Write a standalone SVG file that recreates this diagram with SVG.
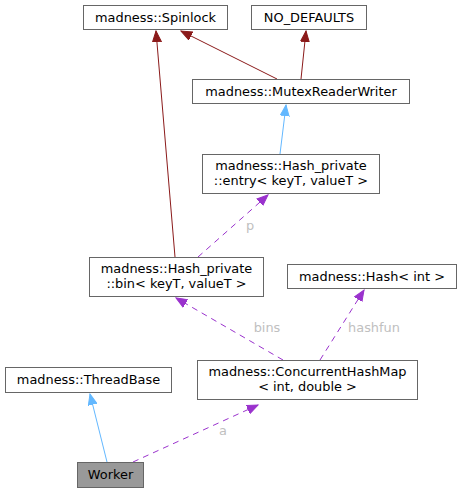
<svg xmlns="http://www.w3.org/2000/svg" width="463" height="493" viewBox="0 0 463 493">
<style>
.n rect{fill:#fff;stroke:#666;stroke-width:1}
.n text{font-family:"DejaVu Sans",sans-serif;font-size:12.9px;fill:#000;text-anchor:middle}
.e{fill:none;stroke-width:1}
.priv{stroke:#8b1a1a}
.pub{stroke:#63b8ff}
.use{stroke:#9a32cd;stroke-dasharray:6,5}
.lbl{font-family:"DejaVu Sans",sans-serif;font-size:12.9px;fill:#c0c0c0;text-anchor:middle}
</style>
<defs>
<marker id="aPriv" markerWidth="12" markerHeight="10" refX="11" refY="5" orient="auto" markerUnits="userSpaceOnUse"><path d="M0,0.5 L11,5 L0,9.5 Z" fill="#8b1a1a" stroke="#8b1a1a"/></marker>
<marker id="aPub" markerWidth="12" markerHeight="10" refX="11" refY="5" orient="auto" markerUnits="userSpaceOnUse"><path d="M0,0.5 L11,5 L0,9.5 Z" fill="#63b8ff" stroke="#63b8ff"/></marker>
<marker id="aUse" markerWidth="12" markerHeight="10" refX="11" refY="5" orient="auto" markerUnits="userSpaceOnUse"><path d="M0,0.5 L11,5 L0,9.5 Z" fill="#9a32cd" stroke="#9a32cd"/></marker>
</defs>
<rect width="463" height="493" fill="#fff"/>
<g id="edges">
<path class="e priv" d="M175,257 L156,31" marker-end="url(#aPriv)"/>
<path class="e priv" d="M277,79 L181,31" marker-end="url(#aPriv)"/>
<path class="e priv" d="M301,79 L306,31" marker-end="url(#aPriv)"/>
<path class="e pub" d="M280,154 L286,105" marker-end="url(#aPub)"/>
<path class="e use" d="M198,257 L268,195" marker-end="url(#aUse)"/>
<text class="lbl" x="250" y="230">p</text>
<path class="e use" d="M283,360 L176,298" marker-end="url(#aUse)"/>
<text class="lbl" x="267" y="332">bins</text>
<path class="e use" d="M320,360 L364,290" marker-end="url(#aUse)"/>
<text class="lbl" x="374" y="332">hashfun</text>
<path class="e pub" d="M107,462 L90,394" marker-end="url(#aPub)"/>
<path class="e use" d="M133,462 L258,405" marker-end="url(#aUse)"/>
<text class="lbl" x="223" y="435">a</text>
</g>
<g id="spinlock" class="n"><rect x="83.5" y="5.5" width="144" height="24"/><text x="155.5" y="22">madness::Spinlock</text></g>
<g id="nodefaults" class="n"><rect x="251.5" y="5.5" width="115" height="24"/><text x="309" y="22">NO_DEFAULTS</text></g>
<g id="mutex" class="n"><rect x="192.5" y="79.5" width="217" height="24"/><text x="301" y="96">madness::MutexReaderWriter</text></g>
<g id="entry" class="n"><rect x="202.5" y="154.5" width="177" height="39"/><text x="291" y="170">madness::Hash_private</text><text x="291" y="185">::entry&lt; keyT, valueT &gt;</text></g>
<g id="bin" class="n"><rect x="89.5" y="257.5" width="174" height="39"/><text x="176.5" y="273">madness::Hash_private</text><text x="176.5" y="288">::bin&lt; keyT, valueT &gt;</text></g>
<g id="hash" class="n"><rect x="287.5" y="264.5" width="169" height="24"/><text x="372" y="281">madness::Hash&lt; int &gt;</text></g>
<g id="threadbase" class="n"><rect x="5.5" y="367.5" width="166" height="25"/><text x="88.5" y="384">madness::ThreadBase</text></g>
<g id="chm" class="n"><rect x="197.5" y="360.5" width="220" height="39"/><text x="307.5" y="376">madness::ConcurrentHashMap</text><text x="307.5" y="391">&lt; int, double &gt;</text></g>
<g id="worker" class="n"><rect x="77.5" y="462.5" width="66" height="25" style="fill:#999"/><text x="110.5" y="479">Worker</text></g>
</svg>
